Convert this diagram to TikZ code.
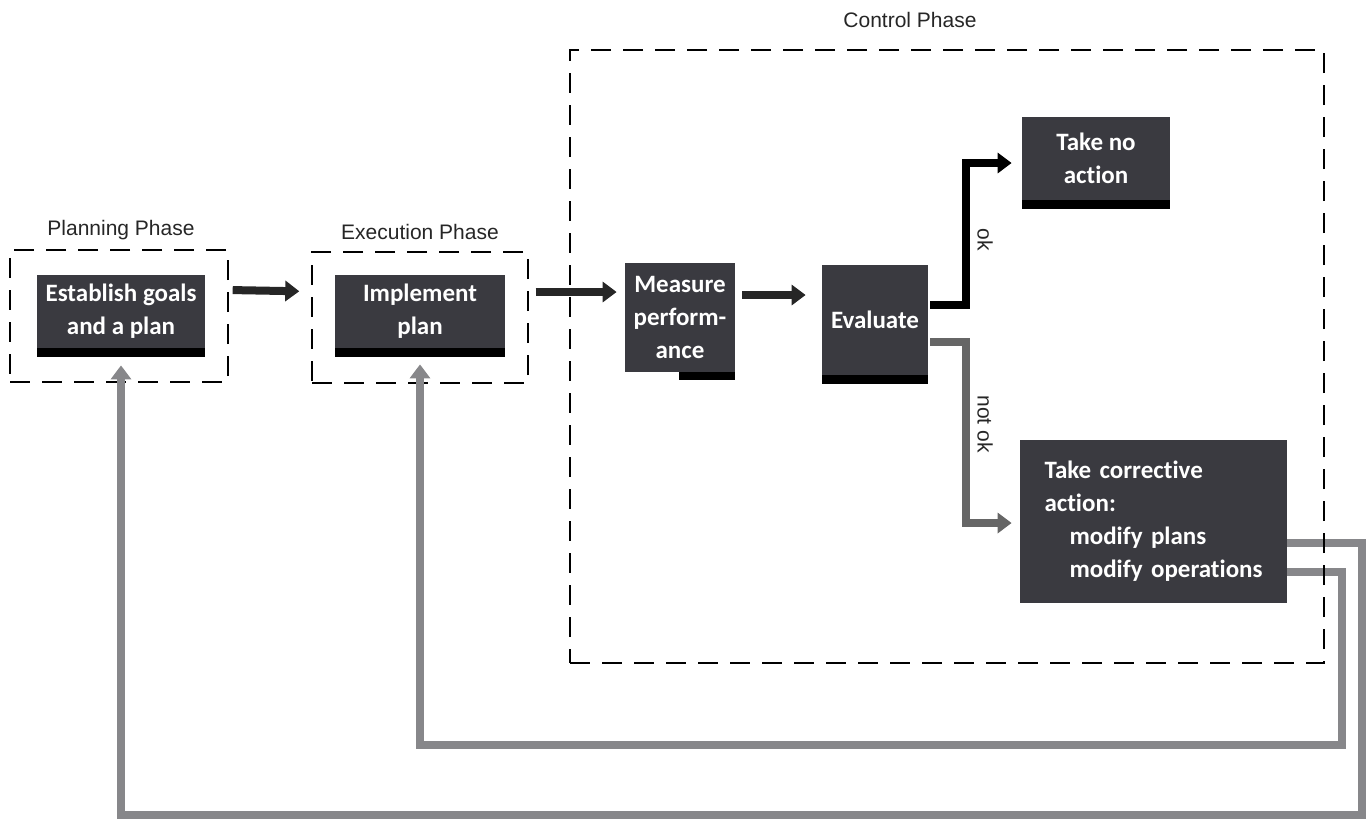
\documentclass[tikz,border=0pt]{standalone}
\usepackage{fontspec}
\setmainfont{Liberation Sans}
\newfontfamily\boxfont[Ligatures=NoCommon]{Carlito}
\usetikzlibrary{arrows.meta}
\definecolor{boxgray}{RGB}{58,58,64}
\definecolor{loopgray}{RGB}{135,135,138}
\begin{document}
\begin{tikzpicture}[x=0.5pt,y=-0.5pt,
  act/.style={fill=boxgray, text=white, font=\boxfont\bfseries\fontsize{12.5}{16.5}\selectfont, align=center, inner sep=2pt},
  phase/.style={draw, dash pattern=on 10pt off 6pt, line width=0.7pt, inner sep=0pt},
  phasetext/.style={font=\fontsize{10.5}{12}\selectfont, text=black!85},
  flow/.style={line width=4pt, -{Triangle[length=7pt,width=10pt]}},
  loop/.style={line width=4pt, draw=loopgray, -{Triangle[length=7pt,width=10pt]}}
]
\useasboundingbox (0,0) rectangle (1370,831);

\node[phase, minimum width=109pt, minimum height=66pt] (plan) at (119,316) {};
\node[phase, minimum width=108pt, minimum height=65.5pt] (exec) at (420,317.5) {};
\node[phasetext] (plantxt) at (121,230) {Planning Phase};
\node[phasetext] (exectxt) at (420,232) {Execution Phase};
\node[phasetext] (ctrltxt) at (910,20) {Control Phase};

\node[act, minimum width=84pt, minimum height=36.5pt] (goals) at (121,311.5) {Establish goals\\and a plan};
\node[act, minimum width=85pt, minimum height=36.5pt] (impl) at (420,311.5) {Implement\\plan};
\node[act, minimum width=55pt, minimum height=54.5pt] (meas) at (680,317.5) {Measure\\perform-\\ance};
\node[act, minimum width=53pt, minimum height=55pt] (eval) at (875,320) {Evaluate};
\node[act, minimum width=74pt, minimum height=41.5pt] (noact) at (1096,158.5) {Take no\\action};
\node[act, align=left, text width=120pt, inner xsep=6.75pt, minimum height=81.5pt] (corr) at (1153.5,521.5)
  {\hspace*{5.5pt}Take corrective\\\hspace*{5.5pt}action:\\\hspace*{18pt}modify plans\\\hspace*{18pt}modify operations};

\foreach \n in {goals,impl,eval,noact}
  \fill (\n.south west) rectangle ([yshift=-4.5pt]\n.south east);
\fill ([xshift=-28pt]meas.south east) rectangle ([yshift=-4pt]meas.south east);

\coordinate (fbplan) at (1362,815);
\coordinate (fbimpl) at (1342,745);
\draw[loop, shorten >=8.5pt] ([yshift=-10.75pt]corr.east) -| (fbplan) -| (goals.south);
\draw[loop, shorten >=8pt] ([yshift=-25.25pt]corr.east) -| (fbimpl) -| (impl.south);

\node[phase, minimum width=377pt, minimum height=306.5pt] (ctrl) at (947,356.5) {};

\draw[flow, draw=black!85, shorten <=2pt, shorten >=6pt] ([yshift=13pt]plan.east) -- ([yshift=13pt]exec.west);
\draw[flow, draw=black!85, shorten <=3.5pt, shorten >=4pt] ([yshift=12.75pt]exec.east) -- ([yshift=12.75pt]exec.east -| meas.west);
\draw[flow, draw=black!85, shorten <=3.5pt, shorten >=8pt] ([yshift=11.25pt]meas.east) -- ([yshift=11.25pt]meas.east -| eval.west);
\draw[flow, shorten <=1pt, shorten >=5pt] ([yshift=7.5pt]eval.east) -- ++(19pt,0) |- ([yshift=-2.25pt]noact.west);
\draw[flow, draw=black!60, shorten <=1pt, shorten >=4pt] ([yshift=-11pt]eval.east) -- ++(19pt,0) |- ([yshift=-0.75pt]corr.west);
\node[phasetext, rotate=-90] (oklbl) at (985,240) {ok};
\node[phasetext, rotate=-90] (notoklbl) at (985,424) {not ok};

\end{tikzpicture}
\end{document}
